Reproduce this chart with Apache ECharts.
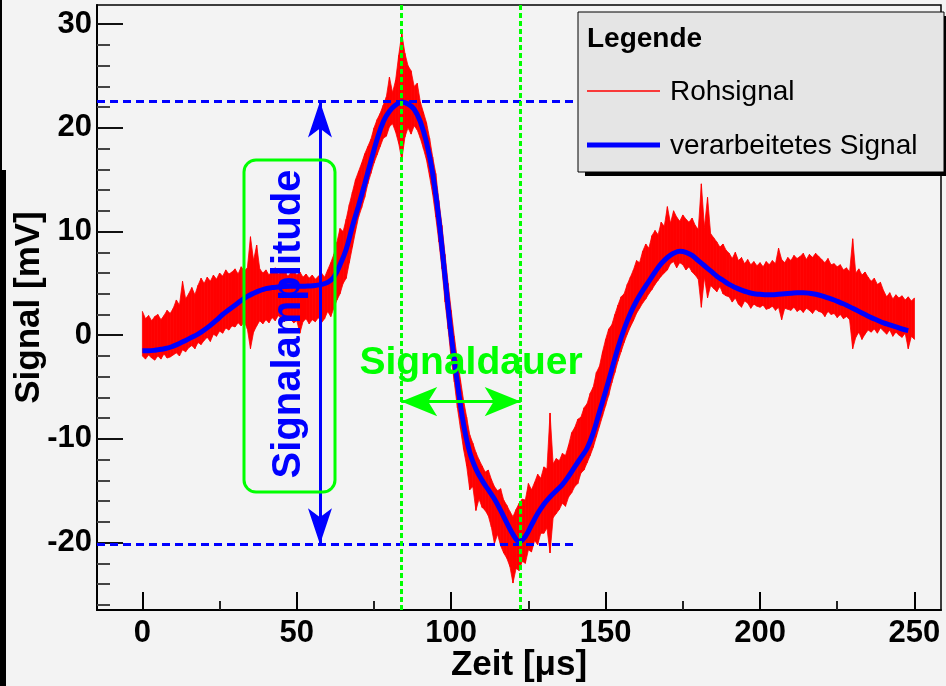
<!DOCTYPE html>
<html><head><meta charset="utf-8">
<script src="https://cdn.jsdelivr.net/npm/echarts@6/dist/echarts.min.js"></script>
<style>html,body{margin:0;padding:0;background:#f3f3f3}#c{width:946px;height:686px}</style>
</head><body><div id="c"></div><script>
// ---- data (time in µs, signal in mV) ----
const rawStart = 0, rawStep = 1;
const rawHigh = [
 2.3, 1.6, 1.9, 1.4, 1.8, 2.0, 1.5, 1.9, 2.4, 2.1,
 2.6, 3.4, 2.9, 5.2, 3.5, 4.0, 4.6, 3.9, 4.8, 5.5,
 5.0, 5.6, 5.2, 5.8, 5.4, 6.0, 5.7, 6.3, 5.9, 6.1,
 6.4, 5.9, 6.6, 6.2, 6.5, 9.5, 7.2, 8.7, 6.4, 6.0,
 6.3, 5.8, 6.2, 6.5, 5.9, 6.1, 6.4, 5.7, 6.0, 6.2,
 5.8, 6.1, 5.6, 5.9, 5.5, 5.8, 5.4, 5.7, 6.0, 5.6,
 6.3, 7.0, 7.8, 9.0, 10.3, 10.0, 11.2, 12.6, 13.8, 15.0,
 15.8, 16.6, 17.5, 18.2, 18.9, 20.0, 20.8, 21.4, 22.2, 23.0,
 24.9, 23.4, 24.6, 27.0, 29.1, 27.2, 26.0, 25.5, 24.0, 24.3,
 22.5, 21.5, 20.5, 19.0, 17.2, 15.6, 13.0, 10.6, 7.8, 5.0,
 2.4, -0.1, -2.4, -4.3, -6.3, -7.9, -9.6, -10.4, -11.3, -12.0,
 -12.6, -13.2, -13.0, -13.9, -14.6, -15.0, -14.8, -15.9, -16.4, -17.0,
 -17.5, -16.8, -16.2, -15.8, -15.9, -14.3, -14.9, -14.2, -13.4, -13.8,
 -12.7, -12.9, -7.5, -12.4, -11.9, -12.1, -11.4, -11.6, -10.6, -9.4,
 -8.9, -8.1, -7.9, -7.0, -6.6, -5.6, -5.0, -3.6, -3.0, -1.6,
 -0.4, 0.6, 1.0, 2.0, 2.9, 3.7, 4.0, 4.9, 5.6, 6.3,
 7.2, 7.0, 8.1, 8.8, 8.4, 9.6, 10.1, 9.7, 10.9, 10.5,
 12.4, 10.8, 12.0, 11.4, 11.0, 11.6, 11.2, 10.9, 11.3, 10.6,
 10.2, 14.6, 10.4, 13.3, 9.8, 9.4, 9.0, 8.5, 8.8, 8.2,
 7.9, 7.4, 8.0, 7.2, 7.5, 6.9, 7.3, 6.8, 7.1, 6.7,
 7.0, 6.6, 7.1, 6.8, 7.2, 6.9, 8.4, 7.3, 7.0, 7.5,
 7.2, 7.7, 7.4, 7.6, 7.9, 7.3, 7.8, 7.5, 7.9, 7.6,
 7.3, 7.0, 7.4, 6.8, 6.9, 6.6, 6.8, 6.3, 6.5, 6.1,
 9.3, 6.0, 6.4, 5.8, 6.1, 5.6, 5.2, 5.5, 4.9, 5.1,
 4.3, 3.7, 4.1, 3.5, 3.9, 3.6, 3.8, 3.4, 3.7, 3.3, 3.6
];
const rawLow = [
 -2.0, -2.3, -1.9, -2.2, -2.4, -2.0, -2.3, -1.8, -2.2, -2.1,
 -1.9, -1.7, -2.0, -1.4, -1.6, -1.2, -1.0, -1.3, -0.7, -0.9,
 -0.5, -0.2, -0.6, 0.1, -0.1, 0.4, 0.2, 0.7, 0.5, 0.9,
 0.8, 1.2, 0.9, 1.3, 0.6, -1.3, 0.3, 0.9, 1.4, 1.1,
 1.5, 1.2, 1.7, 1.4, 1.9, 1.6, 1.3, 1.8, 1.5, 1.2,
 1.4, 0.2, 1.3, 1.6, 1.1, 1.5, 1.3, 1.7, 1.2, 1.6,
 2.3, 1.8, 2.6, 3.4, 4.0, 5.0, 5.5, 7.0, 8.5, 10.0,
 11.4, 12.3, 13.3, 14.6, 15.6, 16.6, 17.4, 18.2, 19.0, 19.2,
 20.1, 20.4, 19.6, 18.5, 16.9, 19.1, 20.0, 19.4, 20.2, 19.8,
 19.0, 18.0, 16.9, 15.3, 13.6, 11.4, 9.0, 6.4, 3.2, 0.6,
 -2.3, -4.5, -7.0, -9.0, -11.0, -12.6, -14.9, -14.6, -16.9, -15.8,
 -16.6, -16.9, -17.4, -18.5, -20.1, -19.2, -20.3, -21.0, -21.5, -22.3,
 -23.9, -22.5, -22.7, -21.8, -22.0, -20.7, -20.9, -19.8, -20.2, -19.1,
 -19.1, -18.6, -21.0, -17.6, -17.2, -16.8, -16.2, -16.5, -15.6, -15.2,
 -14.6, -14.3, -13.3, -13.0, -12.3, -11.6, -10.8, -9.8, -8.8, -7.8,
 -6.8, -5.8, -4.6, -3.6, -2.5, -1.6, -0.7, 0.1, 0.8, 1.4,
 2.1, 2.6, 3.1, 3.5, 4.0, 4.4, 4.9, 5.3, 5.7, 6.0,
 6.3, 6.9, 7.1, 6.5, 7.0, 6.8, 6.3, 6.6, 6.1, 5.8,
 5.4, 2.7, 5.6, 3.6, 4.8, 4.5, 4.2, 4.7, 4.0, 3.8,
 3.7, 3.2, 3.6, 3.0, 2.7, 3.3, 3.1, 2.6, 3.0, 2.8,
 2.7, 2.9, 2.5, 2.6, 2.8, 2.4, 2.7, 1.5, 2.6, 2.5,
 2.4, 2.7, 2.3, 2.5, 2.2, 2.6, 2.4, 2.1, 2.5, 2.3,
 2.2, 1.8, 2.3, 2.0, 2.1, 1.7, 2.0, 1.6, 1.8, 1.5,
 -1.3, -0.2, 0.3, -0.4, 0.1, 0.5, 0.3, 0.6, 0.2, 0.7,
 0.4, 0.1, 0.5, -0.1, 0.3, 0.0, -0.2, 0.2, -1.3, -0.1, -0.4
];
const procStart = 0, procStep = 2;
const procValues = [
 -1.5, -1.5, -1.45, -1.35, -1.25, -1.05, -0.8, -0.5, -0.2, 0.1,
 0.5, 0.95, 1.45, 2.0, 2.45, 2.9, 3.35, 3.75, 4.05, 4.3,
 4.5, 4.6, 4.65, 4.7, 4.72, 4.72, 4.72, 4.75, 4.8, 4.9,
 5.1, 5.6, 6.8, 8.3, 10.5, 12.5, 14.6, 16.8, 18.9, 20.6,
 21.6, 22.2, 22.5, 22.3, 21.8, 20.6, 18.6, 15.6, 11.2, 5.6,
 0, -4.6, -8.6, -11.3, -12.9, -14.0, -14.9, -15.8, -16.9, -18.1,
 -19.2, -19.9, -19.4, -18.3, -17.2, -16.3, -15.6, -15.0, -14.4, -13.6,
 -12.7, -11.8, -10.9, -9.4, -7.4, -5.4, -3.3, -1.2, 0.6, 2.1,
 3.3, 4.3, 5.2, 6.1, 6.9, 7.5, 7.9, 8.1, 8.0, 7.7,
 7.2, 6.7, 6.2, 5.7, 5.3, 4.9, 4.6, 4.35, 4.15, 4.0,
 3.95, 3.9, 3.9, 3.95, 4.0, 4.05, 4.1, 4.1, 4.05, 3.95,
 3.8, 3.6, 3.4, 3.15, 2.9, 2.6, 2.3, 2.0, 1.7, 1.45,
 1.2, 1.0, 0.8, 0.6, 0.45
];
const xTicks = [0, 50, 100, 150, 200, 250];
const xMinorTicks = [25, 75, 125, 175, 225];
const yTicks = [-20, -10, 0, 10, 20, 30];
const yMinorTicks = [-26, -24, -22, -18, -16, -14, -12, -8, -6, -4, -2, 2, 4, 6, 8, 12, 14, 16, 18, 22, 24, 26, 28];
const amplitudeLevels = [22.55, -20.15];   // mV
const amplitudeMarkerX = 57.5;              // µs
const amplitudeLineEnd = 141;               // µs
const durationBounds = [83.8, 122.5];       // µs
const durationArrowLevel = -6.4;            // mV
const seriesNames = ['Rohsignal', 'verarbeitetes Signal'];

const X_MIN = -14.7, X_MAX = 258.6, Y_MIN = -26.5, Y_MAX = 31.85;
const FF = '"Liberation Sans", Arial, Helvetica, sans-serif';

// band data: [time, low, high]
const rawBand = rawHigh.map((v, i) => [rawStart + i * rawStep, rawLow[i], v]);
const procPts = procValues.map((v, i) => [procStart + i * procStep, v]);

const chart = echarts.init(document.getElementById('c'), null, {renderer: 'canvas'});

function xAxisBase(extra) {
  return Object.assign({
    type: 'value', min: X_MIN, max: X_MAX, position: 'bottom',
    splitLine: {show: false}
  }, extra);
}
function yAxisBase(extra) {
  return Object.assign({
    type: 'value', min: Y_MIN, max: Y_MAX, position: 'left',
    splitLine: {show: false}
  }, extra);
}

function renderBand(params, api) {
  const n = params.dataInsideLength;
  const i = params.dataIndexInside;
  if (i >= n - 1) return null;
  const x0 = api.value(0, i), l0 = api.value(1, i), h0 = api.value(2, i);
  const x1 = api.value(0, i + 1), l1 = api.value(1, i + 1), h1 = api.value(2, i + 1);
  const pts = [api.coord([x0, l0]), api.coord([x1, l1]), api.coord([x1, h1]), api.coord([x0, h0])];
  return {
    type: 'polygon',
    shape: {points: pts},
    style: {fill: '#ff0000', stroke: '#ff0000', lineWidth: 0.8}
  };
}

const option = {
  backgroundColor: '#f3f3f3',
  animation: false,
  grid: {left: 97, right: 5, top: 5, bottom: 76, show: true, borderColor: '#000', borderWidth: 1.5,
         backgroundColor: 'transparent', containLabel: false, outerBoundsMode: 'none'},
  xAxis: [
    xAxisBase({
      axisLine: {show: true, onZero: false, lineStyle: {color: '#000', width: 2}},
      axisTick: {show: true, inside: true, length: 18, customValues: xTicks, lineStyle: {color: '#000', width: 2}},
      axisLabel: {customValues: xTicks, fontSize: 31, fontWeight: 'bold', color: '#000', fontFamily: FF, margin: 8},
      name: 'Zeit [μs]', nameLocation: 'middle', nameGap: 38, nameMoveOverlap: false,
      nameTextStyle: {fontSize: 35, fontWeight: 'bold', color: '#000', fontFamily: FF}
    }),
    xAxisBase({
      axisLine: {show: false, onZero: false},
      axisTick: {show: true, inside: true, length: 9, customValues: xMinorTicks, lineStyle: {color: '#222', width: 2}},
      axisLabel: {show: false}
    })
  ],
  yAxis: [
    yAxisBase({
      axisLine: {show: true, onZero: false, lineStyle: {color: '#000', width: 2}},
      axisTick: {show: true, inside: true, length: 26, customValues: yTicks, lineStyle: {color: '#111', width: 2}},
      axisLabel: {customValues: yTicks, fontSize: 31, fontWeight: 'bold', color: '#000', fontFamily: FF, margin: 5},
      name: 'Signal [mV]', nameLocation: 'middle', nameGap: 50, nameMoveOverlap: false,
      nameTextStyle: {fontSize: 35, fontWeight: 'bold', color: '#000', fontFamily: FF}
    }),
    yAxisBase({
      axisLine: {show: false, onZero: false},
      axisTick: {show: true, inside: true, length: 13, customValues: yMinorTicks, lineStyle: {color: '#444', width: 2}},
      axisLabel: {show: false}
    })
  ],
  series: [
    {
      name: seriesNames[0], type: 'custom', data: rawBand, renderItem: renderBand,
      encode: {x: 0, y: [1, 2]}, z: 2, silent: true, clip: true
    },
    {
      name: seriesNames[1], type: 'line', data: procPts, smooth: 0.4, symbol: 'none', z: 3,
      lineStyle: {color: '#0000ff', width: 5}, silent: true
    },
    {
      name: 'Markierungen', type: 'line', data: [], z: 4, silent: true,
      markLine: {
        silent: true, animation: false, label: {show: false}, emphasis: {disabled: true},
        data: [
          [{coord: [X_MIN, amplitudeLevels[0]], symbol: 'none', lineStyle: {color: '#0000ff', width: 3, type: [8, 5]}},
           {coord: [amplitudeLineEnd, amplitudeLevels[0]], symbol: 'none'}],
          [{coord: [X_MIN, amplitudeLevels[1]], symbol: 'none', lineStyle: {color: '#0000ff', width: 3, type: [8, 5]}},
           {coord: [amplitudeLineEnd, amplitudeLevels[1]], symbol: 'none'}],
          [{coord: [durationBounds[0], Y_MIN], symbol: 'none', lineStyle: {color: '#00ff00', width: 3, type: [5, 3]}},
           {coord: [durationBounds[0], Y_MAX], symbol: 'none'}],
          [{coord: [durationBounds[1], Y_MIN], symbol: 'none', lineStyle: {color: '#00ff00', width: 3, type: [5, 3]}},
           {coord: [durationBounds[1], Y_MAX], symbol: 'none'}],
          [{coord: [durationBounds[0], durationArrowLevel], symbol: 'arrow', symbolSize: [22, 36], lineStyle: {color: '#00ff00', width: 3, type: 'solid'}, itemStyle: {color: '#00ff00'}},
           {coord: [durationBounds[1], durationArrowLevel], symbol: 'arrow', symbolSize: [22, 36]}],
          [{coord: [amplitudeMarkerX, amplitudeLevels[0]], symbol: 'arrow', symbolSize: [18, 36], lineStyle: {color: '#0000ff', width: 3, type: 'solid'}, itemStyle: {color: '#0000ff'}},
           {coord: [amplitudeMarkerX, amplitudeLevels[1]], symbol: 'arrow', symbolSize: [18, 36]}]
        ]
      }
    }
  ],
  graphic: [
    {type: 'rect', z: 0, shape: {x: 0, y: 0, width: 2, height: 686}, style: {fill: '#000'}},
    {type: 'rect', z: 0, shape: {x: 0, y: 170, width: 6, height: 516}, style: {fill: '#000'}},
    // annotation box + texts
    {type: 'rect', z: 50, shape: {x: 244, y: 160, width: 91, height: 332, r: 12},
     style: {fill: 'none', stroke: '#00ff00', lineWidth: 3}},
    {type: 'text', z: 51, x: 289, y: 324, rotation: Math.PI / 2,
     style: {text: 'Signalamplitude', fill: '#0000ff', font: 'bold 40px ' + FF, align: 'center', verticalAlign: 'middle'}},
    {type: 'text', z: 51, x: 471, y: 363,
     style: {text: 'Signaldauer', fill: '#00ff00', font: 'bold 39px ' + FF, align: 'center', verticalAlign: 'middle'}},
    // legend
    {type: 'rect', z: 100, shape: {x: 585, y: 16, width: 366, height: 160}, style: {fill: '#000'}},
    {type: 'rect', z: 101, shape: {x: 578, y: 12, width: 366, height: 160}, style: {fill: '#e5e5e5', stroke: '#000', lineWidth: 1}},
    {type: 'text', z: 102, x: 587, y: 39, style: {text: 'Legende', fill: '#000', font: 'bold 28px ' + FF, align: 'left', verticalAlign: 'middle'}},
    {type: 'line', z: 102, shape: {x1: 587, y1: 91, x2: 660, y2: 91}, style: {stroke: '#ff0000', lineWidth: 1.5}},
    {type: 'text', z: 102, x: 670, y: 92, style: {text: seriesNames[0], fill: '#000', font: '28px ' + FF, align: 'left', verticalAlign: 'middle'}},
    {type: 'line', z: 102, shape: {x1: 587, y1: 145, x2: 660, y2: 145}, style: {stroke: '#0000ff', lineWidth: 5}},
    {type: 'text', z: 102, x: 670, y: 146, style: {text: seriesNames[1], fill: '#000', font: '28px ' + FF, align: 'left', verticalAlign: 'middle'}}
  ]
};
chart.setOption(option);
</script></body></html>
